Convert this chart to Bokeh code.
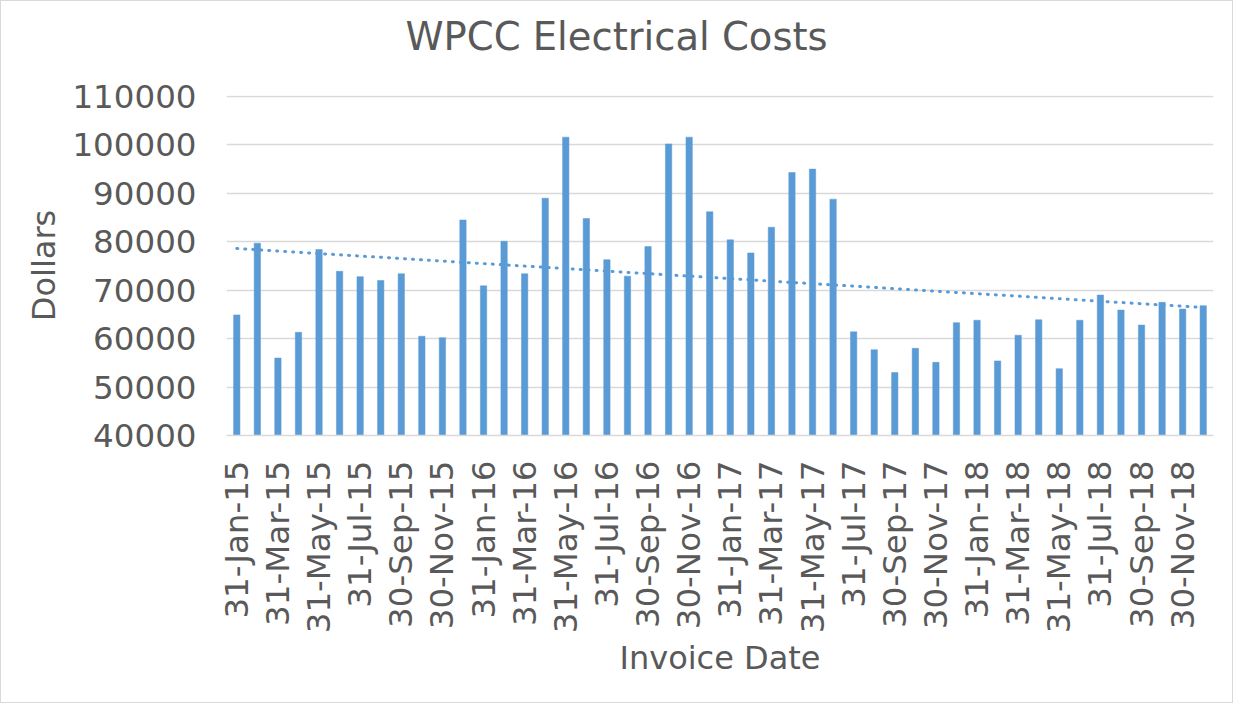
import numpy as np
from math import pi
from bokeh.plotting import figure
from bokeh.models import ColumnDataSource, Range1d, FixedTicker, BasicTickFormatter, Title
from bokeh.embed import file_html
from bokeh.resources import INLINE

# ---- data ----
invoice_dates = [
    "31-Jan-15", "28-Feb-15", "31-Mar-15", "30-Apr-15", "31-May-15", "30-Jun-15",
    "31-Jul-15", "31-Aug-15", "30-Sep-15", "31-Oct-15", "30-Nov-15", "31-Dec-15",
    "31-Jan-16", "29-Feb-16", "31-Mar-16", "30-Apr-16", "31-May-16", "30-Jun-16",
    "31-Jul-16", "31-Aug-16", "30-Sep-16", "31-Oct-16", "30-Nov-16", "31-Dec-16",
    "31-Jan-17", "28-Feb-17", "31-Mar-17", "30-Apr-17", "31-May-17", "30-Jun-17",
    "31-Jul-17", "31-Aug-17", "30-Sep-17", "31-Oct-17", "30-Nov-17", "31-Dec-17",
    "31-Jan-18", "28-Feb-18", "31-Mar-18", "30-Apr-18", "31-May-18", "30-Jun-18",
    "31-Jul-18", "31-Aug-18", "30-Sep-18", "31-Oct-18", "30-Nov-18", "31-Dec-18",
]
dollars = [
    64900, 79700, 56000, 61300, 78400, 73900, 72800, 72000, 73400, 60500, 60200, 84500,
    70900, 80100, 73400, 89000, 101600, 84800, 76300, 72900, 79000, 100200, 101600, 86200,
    80400, 77700, 83000, 94300, 95000, 88800, 61400, 57700, 53000, 58000, 55100, 63300,
    63800, 55400, 60700, 63900, 53800, 63800, 69000, 65900, 62800, 67500, 66100, 66800,
]
y_ticks = [40000, 50000, 60000, 70000, 80000, 90000, 100000, 110000]
title_text = "WPCC Electrical Costs"

idx = list(range(len(dollars)))
label_idx = idx[::2]
tick_labels = {i: invoice_dates[i] for i in label_idx}

# linear trendline (least squares, as in the spreadsheet trendline)
slope, intercept = np.polyfit(idx, dollars, 1)
trend_x = [idx[0], idx[-1]]
trend_y = [intercept + slope * x for x in trend_x]

BLUE = "#5B9BD5"
TEXT = "#595959"
GRID = "#D9D9D9"
FONT = "DejaVu Sans"

src = ColumnDataSource(dict(idx=idx, dollars=dollars))

p = figure(
    width=1233, height=703,
    x_range=Range1d(-0.5, len(dollars) - 0.5),
    y_range=Range1d(y_ticks[0], y_ticks[-1] + 200),
    output_backend="svg", toolbar_location=None,
    min_border_left=225, min_border_right=21,
    min_border_top=94, min_border_bottom=269,
    styles={"border": "1px solid #D9D9D9"},
)

p.vbar(x="idx", top="dollars", bottom=y_ticks[0], width=0.31,
       fill_color=BLUE, line_color=BLUE, line_width=0.5, source=src)
p.line(trend_x, trend_y, line_color=BLUE, line_width=3,
       line_dash="1 7", line_cap="round")

# spacer between frame and title, then the title itself
p.add_layout(Title(text=" ", text_font_size="20px", standoff=13), "above")
p.add_layout(Title(
    text=title_text, text_font=FONT, text_font_size="38.5px",
    text_font_style="normal", text_color=TEXT,
    align="left", offset=179, standoff=0,
), "above")

p.outline_line_color = None
p.background_fill_color = "white"
p.border_fill_color = "white"

p.xgrid.visible = False
p.ygrid.grid_line_color = GRID
p.ygrid.grid_line_width = 1.3

# x axis
xa = p.xaxis[0]
xa.ticker = FixedTicker(ticks=label_idx)
xa.major_label_overrides = tick_labels
xa.major_label_orientation = pi / 2
xa.major_label_text_font = FONT
xa.major_label_text_font_size = "32.5px"
xa.major_label_text_color = TEXT
xa.major_label_standoff = 19
xa.axis_line_color = GRID
xa.axis_line_width = 1.3
xa.major_tick_line_color = None
xa.minor_tick_line_color = None
xa.axis_label = "Invoice Date"
xa.axis_label_text_font = FONT
xa.axis_label_text_font_size = "32px"
xa.axis_label_text_font_style = "normal"
xa.axis_label_text_color = TEXT
xa.axis_label_standoff = 3

# y axis
ya = p.yaxis[0]
ya.ticker = FixedTicker(ticks=y_ticks)
ya.formatter = BasicTickFormatter(use_scientific=False)
ya.major_label_text_font = FONT
ya.major_label_text_font_size = "32.5px"
ya.major_label_text_color = TEXT
ya.major_label_standoff = 24
ya.axis_line_color = None
ya.major_tick_line_color = None
ya.minor_tick_line_color = None
ya.axis_label = "Dollars"
ya.axis_label_text_font = FONT
ya.axis_label_text_font_size = "32px"
ya.axis_label_text_font_style = "normal"
ya.axis_label_text_color = TEXT
ya.axis_label_standoff = 6

open("out.html", "w").write(file_html(p, INLINE))
